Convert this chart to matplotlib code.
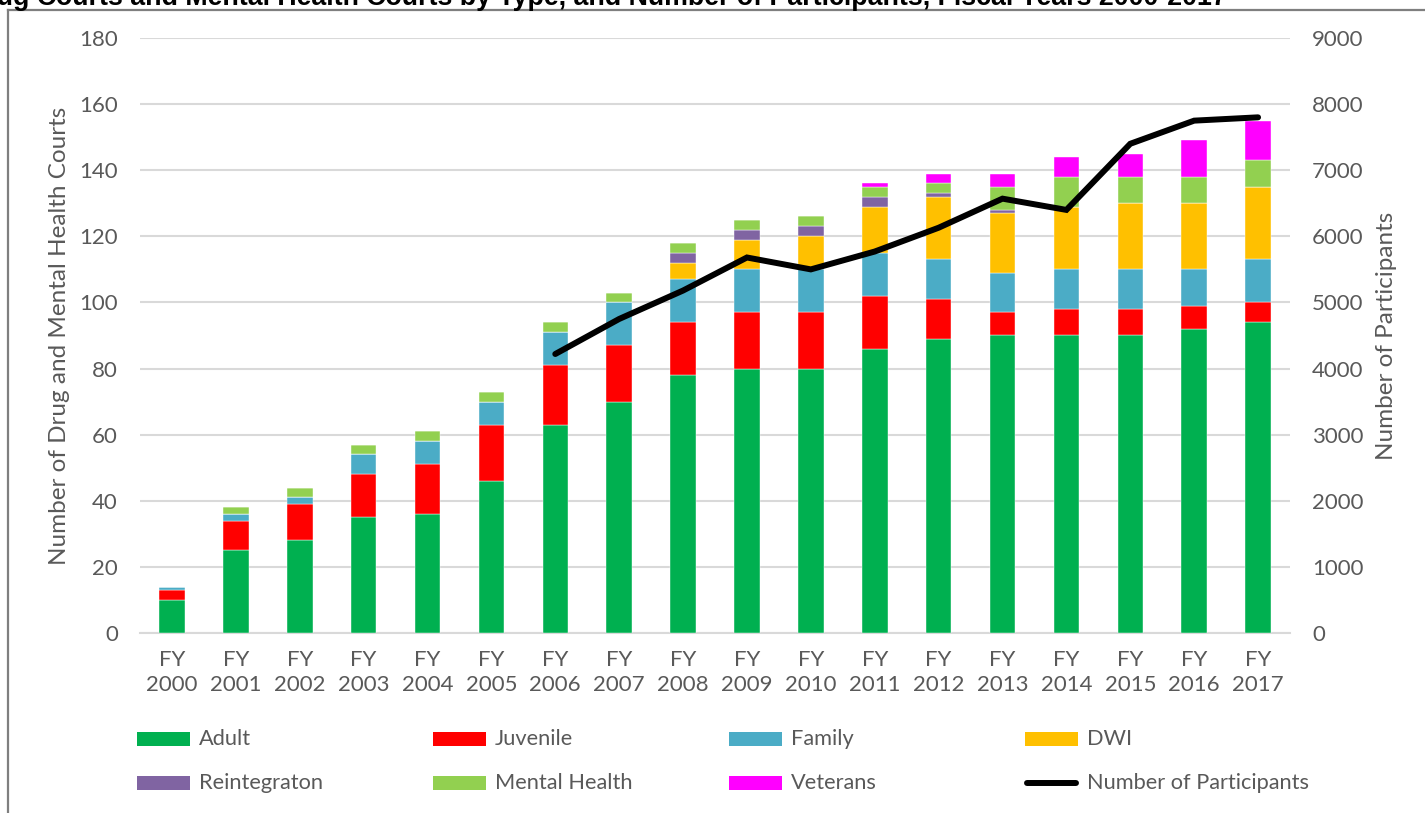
import matplotlib
matplotlib.use("Agg")
import matplotlib.pyplot as plt
from matplotlib.patches import Rectangle
from matplotlib.lines import Line2D
import numpy as np

plt.rcParams['font.family'] = ['Lato', 'DejaVu Sans']

years = ['FY\n2000', 'FY\n2001', 'FY\n2002', 'FY\n2003', 'FY\n2004', 'FY\n2005',
         'FY\n2006', 'FY\n2007', 'FY\n2008', 'FY\n2009', 'FY\n2010', 'FY\n2011',
         'FY\n2012', 'FY\n2013', 'FY\n2014', 'FY\n2015', 'FY\n2016', 'FY\n2017']
adult = [10, 25, 28, 35, 36, 46, 63, 70, 78, 80, 80, 86, 89, 90, 90, 90, 92, 94]
juvenile = [3, 9, 11, 13, 15, 17, 18, 17, 16, 17, 17, 16, 12, 7, 8, 8, 7, 6]
family = [1, 2, 2, 6, 7, 7, 10, 13, 13, 13, 13, 13, 12, 12, 12, 12, 11, 13]
dwi = [0, 0, 0, 0, 0, 0, 0, 0, 5, 9, 10, 14, 19, 18, 19, 20, 20, 22]
reintegration = [0, 0, 0, 0, 0, 0, 0, 0, 3, 3, 3, 3, 1, 1, 0, 0, 0, 0]
mental_health = [0, 2, 3, 3, 3, 3, 3, 3, 3, 3, 3, 3, 3, 7, 9, 8, 8, 8]
veterans = [0, 0, 0, 0, 0, 0, 0, 0, 0, 0, 0, 1, 3, 4, 6, 7, 11, 12]
participant_years = ['FY\n2006', 'FY\n2007', 'FY\n2008', 'FY\n2009', 'FY\n2010', 'FY\n2011',
                     'FY\n2012', 'FY\n2013', 'FY\n2014', 'FY\n2015', 'FY\n2016', 'FY\n2017']
participants = [4220, 4750, 5180, 5680, 5500, 5770, 6130, 6570, 6400, 7400, 7750, 7800]

series = [('Adult', adult, '#00B050'),
          ('Juvenile', juvenile, '#FF0000'),
          ('Family', family, '#4BACC6'),
          ('DWI', dwi, '#FFC000'),
          ('Reintegraton', reintegration, '#8064A2'),
          ('Mental Health', mental_health, '#92D050'),
          ('Veterans', veterans, '#FF00FF')]

grey = '#595959'
fig = plt.figure(figsize=(14.25, 8.13), dpi=100)
ax = fig.add_axes([140/1425, 1-633/813, 1150/1425, 595/813])
ax2 = ax.twinx()

x = np.arange(len(years))
bottom = np.zeros(len(years))
for name, vals, col in series:
    ax.bar(x, vals, 0.4, bottom=bottom, color=col, edgecolor='white', linewidth=0.3, zorder=3)
    bottom += np.array(vals)

px = [years.index(y) for y in participant_years]
ax2.plot(px, participants, color='black', lw=4.3, solid_capstyle='round', solid_joinstyle='miter')

ax.set_xlim(-0.5, len(years) - 0.5)
ax.set_ylim(0, 180)
ax.set_yticks(np.arange(0, 181, 20))
ax2.set_ylim(0, 9000)
ax2.set_yticks(np.arange(0, 9001, 1000))
ax.set_xticks(x)
ax.set_xticklabels(years, linespacing=1.35)
ax.yaxis.grid(True, color='#D9D9D9', lw=1.5, zorder=0)
ax.set_axisbelow(True)

for a in (ax, ax2):
    for s in a.spines.values():
        s.set_visible(False)
    a.tick_params(length=0, labelsize=16, labelcolor=grey)
ax.spines['bottom'].set_visible(True)
ax.spines['bottom'].set_color('#D9D9D9')
ax.spines['bottom'].set_linewidth(1.5)
ax.tick_params(axis='y', pad=16)
ax.tick_params(axis='x', pad=12)
ax2.tick_params(axis='y', pad=16)

ax.set_ylabel('Number of Drug and Mental Health Courts', fontsize=17.5, color=grey)
ax.yaxis.set_label_coords(-0.061, 0.5)
ax2.set_ylabel('Number of Participants', fontsize=17.5, color=grey, rotation=90)
ax2.yaxis.set_label_coords(1.075, 0.5)

# legend, laid out by hand in figure pixels
def fx(p):
    return p / 1425

def fy(p):
    return 1 - p / 813

cols = [137, 433, 729, 1025]
rows = [739, 783]
entries = [(name, col) for name, vals, col in series] + [('Number of Participants', None)]
for i, (name, col) in enumerate(entries):
    cx = cols[i % 4]
    cy = rows[i // 4]
    if col is None:
        fig.add_artist(Line2D([fx(cx + 2), fx(cx + 51)], [fy(cy), fy(cy)], color='black', lw=4.3,
                              solid_capstyle='round'))
    else:
        fig.add_artist(Rectangle((fx(cx), fy(cy + 7)), 53/1425, 14/813, color=col, lw=0))
    fig.text(fx(cx + 62), fy(cy), name, fontsize=15.7, color=grey, va='center', ha='left')

# outer frame and clipped title
fig.add_artist(Line2D([fx(8), fx(8)], [fy(10), fy(813)], color='#7F7F7F', lw=1.6))
fig.add_artist(Line2D([fx(8), fx(1425)], [fy(10), fy(10)], color='#7F7F7F', lw=1.6))
fig.text(fx(1227), fy(5), 'Drug Courts and Mental Health Courts by Type, and Number of Participants, Fiscal Years 2000-2017',
         fontsize=19.3, fontweight='bold', family='Liberation Sans', ha='right', va='baseline', color='black')

plt.savefig('out.png', dpi=100)
